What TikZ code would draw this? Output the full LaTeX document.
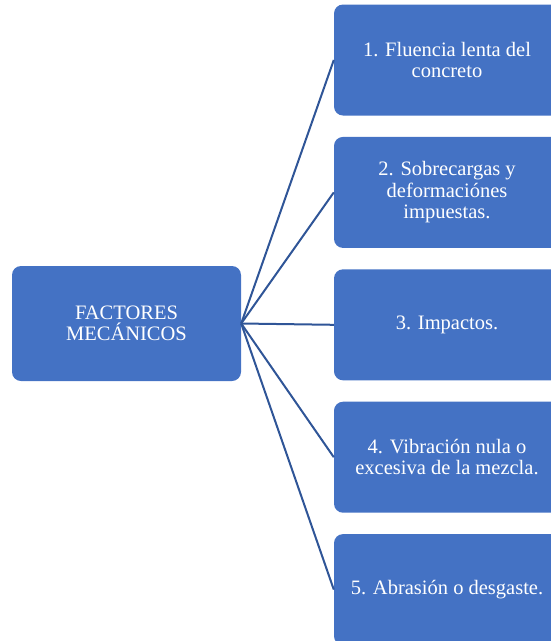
\documentclass[tikz,border=0pt]{standalone}
\usepackage{fontspec}
\setmainfont{Liberation Serif}
\usetikzlibrary{positioning}
\definecolor{boxblue}{HTML}{4472C4}
\definecolor{linkblue}{HTML}{2F5597}
\tikzset{
  box/.style={fill=boxblue, rounded corners=9pt, text=white, align=center, inner sep=0pt,
    font=\fontsize{20.5}{21.5}\selectfont},
  item/.style={box, minimum width=226pt, minimum height=111pt},
  link/.style={draw=linkblue, line width=2pt},
}

\begin{document}
\begin{tikzpicture}[x=1pt,y=-1pt]
  \useasboundingbox (0,0) rectangle (550,641);
  \node[box, minimum width=229pt, minimum height=115pt] (root) at (126.5,323.5) {FACTORES\\MECÁNICOS};
  \node[item] (f1) at (447,60) {1. Fluencia lenta del\\concreto};
  \node[item, below=21pt of f1] (f2) {2. Sobrecargas y\\deformaciónes\\impuestas.};
  \node[item, below=21pt of f2] (f3) {3. Impactos.};
  \node[item, below=21pt of f3] (f4) {4. Vibración nula o\\excesiva de la mezcla.};
  \node[item, below=21pt of f4] (f5) {5. Abrasión o desgaste.};
  \foreach \i in {1,...,5}
    \draw[link] (root.east) -- (f\i.west);
\end{tikzpicture}
\end{document}
